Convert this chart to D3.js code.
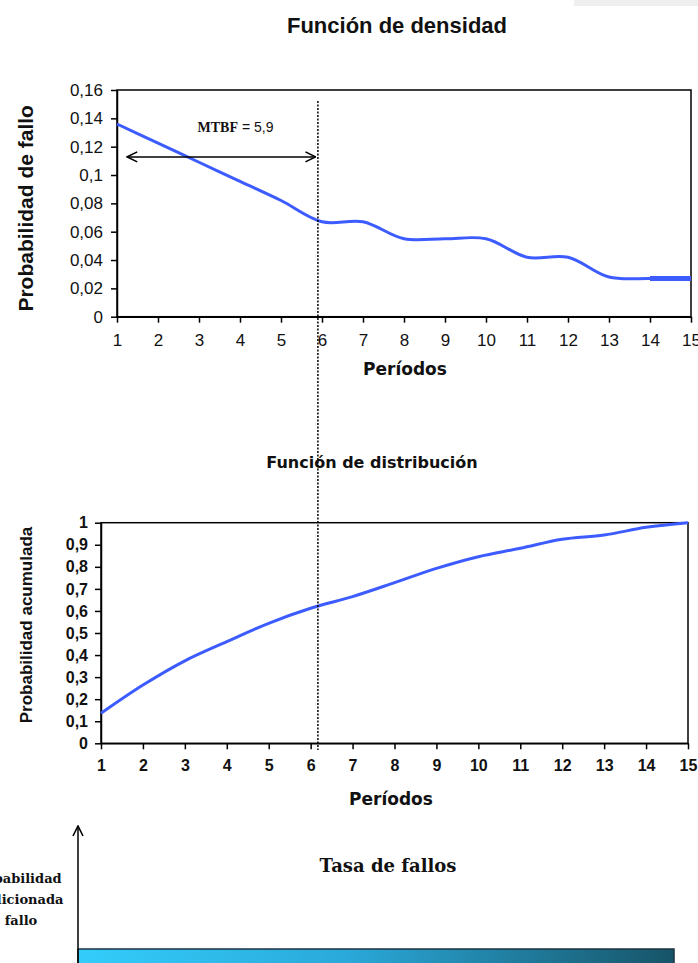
<!DOCTYPE html>
<html>
<head>
<meta charset="utf-8">
<script src="https://cdn.jsdelivr.net/npm/d3@7.9.0/dist/d3.min.js"></script>
<style>
  body { margin: 0; background: #fff; }
  svg { display: block; }
  .tick line, .domain { stroke: #000; stroke-width: 1.5; }
</style>
</head>
<body>
<svg id="chart" width="698" height="963"></svg>
<script>
// periods 1..15
const periods = [1, 2, 3, 4, 5, 6, 7, 8, 9, 10, 11, 12, 13, 14, 15];
// failure probability (density)
const density = [0.136, 0.1225, 0.109, 0.0955, 0.082, 0.067, 0.067, 0.055, 0.055, 0.055, 0.042, 0.042, 0.028, 0.027, 0.027];
// cumulative probability (distribution)
const cumulative = [0.136, 0.264, 0.374, 0.461, 0.544, 0.612, 0.665, 0.728, 0.793, 0.846, 0.884, 0.925, 0.944, 0.979, 1.0];
const mtbf = 5.9;
const densityTicks = [0, 0.02, 0.04, 0.06, 0.08, 0.1, 0.12, 0.14, 0.16];
const cumulativeTicks = [0, 0.1, 0.2, 0.3, 0.4, 0.5, 0.6, 0.7, 0.8, 0.9, 1];

const comma = d => String(+d.toFixed(2)).replace('.', ',');
const blue = '#3d5cff';

const svg = d3.select('#chart');

// faint strip in the top right corner
svg.append('rect').attr('x', 574).attr('y', 0).attr('width', 124).attr('height', 6).attr('fill', '#efefef');

// ---------- Función de densidad ----------
const x1 = d3.scaleLinear().domain([1, 15]).range([117, 691]);
const y1 = d3.scaleLinear().domain([0, 0.16]).range([316.7, 90]);

svg.append('text')
  .attr('x', 397).attr('y', 33)
  .attr('text-anchor', 'middle')
  .style('font', 'bold 22px "Liberation Sans", Arial, sans-serif')
  .attr('fill', '#111')
  .text('Función de densidad');

svg.append('rect')
  .attr('x', x1(1)).attr('y', y1(0.16))
  .attr('width', x1(15) - x1(1)).attr('height', y1(0) - y1(0.16))
  .attr('fill', 'none').attr('stroke', '#000').attr('stroke-width', 1.5);

const gx1 = svg.append('g').attr('transform', `translate(0,${y1(0)})`)
  .call(d3.axisBottom(x1).tickValues(periods).tickSize(6).tickSizeOuter(0).tickPadding(11).tickFormat(d3.format('d')));
gx1.selectAll('text').style('font', '17px "Liberation Sans", Arial, sans-serif').attr('fill', '#111');

const gy1 = svg.append('g').attr('transform', `translate(${x1(1)},0)`)
  .call(d3.axisLeft(y1).tickValues(densityTicks).tickSize(6).tickSizeOuter(0).tickPadding(8).tickFormat(comma));
gy1.selectAll('text').style('font', '17px "Liberation Sans", Arial, sans-serif').attr('fill', '#111');

svg.append('text')
  .attr('transform', `translate(33,${(y1(0) + y1(0.16)) / 2 + 5}) rotate(-90)`)
  .attr('text-anchor', 'middle')
  .style('font', 'bold 21px "Liberation Sans", Arial, sans-serif')
  .attr('fill', '#111')
  .text('Probabilidad de fallo');

svg.append('text')
  .attr('x', 405).attr('y', 375)
  .attr('text-anchor', 'middle')
  .style('font', 'bold 17px "DejaVu Sans", Verdana, sans-serif')
  .attr('fill', '#111')
  .text('Períodos');

const dens = periods.map((p, i) => ({ x: p, y: density[i] }));
const line1 = d3.line().x(d => x1(d.x)).y(d => y1(d.y)).curve(d3.curveCatmullRom.alpha(0.5));
svg.append('path').datum(dens).attr('d', line1)
  .attr('fill', 'none').attr('stroke', blue).attr('stroke-width', 3);
svg.append('path').datum(dens.filter(d => d.x >= 14)).attr('d', line1)
  .attr('fill', 'none').attr('stroke', blue).attr('stroke-width', 5);

// MTBF arrow + label
svg.append('defs').html(`
  <marker id="ah" viewBox="0 0 12 12" refX="11" refY="6" markerWidth="12" markerHeight="12" markerUnits="userSpaceOnUse" orient="auto-start-reverse">
    <path d="M1,1 L11,6 L1,11" fill="none" stroke="#000" stroke-width="1.6"/>
  </marker>
  <linearGradient id="bar" x1="0" x2="1" y1="0" y2="0">
    <stop offset="0" stop-color="#33cdfb"/>
    <stop offset="0.45" stop-color="#2aa9da"/>
    <stop offset="1" stop-color="#175468"/>
  </linearGradient>`);

svg.append('line')
  .attr('x1', x1(1.25)).attr('x2', x1(mtbf - 0.06))
  .attr('y1', y1(0.1128)).attr('y2', y1(0.1128))
  .attr('stroke', '#000').attr('stroke-width', 1.5)
  .attr('marker-start', 'url(#ah)').attr('marker-end', 'url(#ah)');

const lbl = svg.append('text')
  .attr('x', x1(3.89)).attr('y', 132)
  .attr('text-anchor', 'middle')
  .attr('fill', '#111');
lbl.append('tspan').style('font', 'bold 14px "Liberation Serif", "Times New Roman", serif').text('MTBF');
lbl.append('tspan').style('font', '14px "Liberation Sans", Arial, sans-serif').text(' = ' + comma(mtbf));

// ---------- Función de distribución ----------
const x2 = d3.scaleLinear().domain([1, 15]).range([101, 688]);
const y2 = d3.scaleLinear().domain([0, 1]).range([743.3, 522.7]);

svg.append('text')
  .attr('x', 372).attr('y', 468)
  .attr('text-anchor', 'middle')
  .style('font', 'bold 16px "DejaVu Sans", Verdana, sans-serif')
  .attr('fill', '#111')
  .text('Función de distribución');

svg.append('rect')
  .attr('x', x2(1)).attr('y', y2(1))
  .attr('width', x2(15) - x2(1)).attr('height', y2(0) - y2(1))
  .attr('fill', 'none').attr('stroke', '#000').attr('stroke-width', 1.5);

const gx2 = svg.append('g').attr('transform', `translate(0,${y2(0)})`)
  .call(d3.axisBottom(x2).tickValues(periods).tickSize(6).tickSizeOuter(0).tickPadding(10).tickFormat(d3.format('d')));
gx2.selectAll('text').style('font', 'bold 16px "Liberation Sans", Arial, sans-serif').attr('fill', '#111');

const gy2 = svg.append('g').attr('transform', `translate(${x2(1)},0)`)
  .call(d3.axisLeft(y2).tickValues(cumulativeTicks).tickSize(6).tickSizeOuter(0).tickPadding(7).tickFormat(comma));
gy2.selectAll('text').style('font', 'bold 16px "Liberation Sans", Arial, sans-serif').attr('fill', '#111');

svg.append('text')
  .attr('transform', `translate(32,625) rotate(-90)`)
  .attr('text-anchor', 'middle')
  .style('font', 'bold 17px "Liberation Sans", Arial, sans-serif')
  .attr('fill', '#111')
  .text('Probabilidad acumulada');

svg.append('text')
  .attr('x', 391).attr('y', 805)
  .attr('text-anchor', 'middle')
  .style('font', 'bold 17px "DejaVu Sans", Verdana, sans-serif')
  .attr('fill', '#111')
  .text('Períodos');

const cum = periods.map((p, i) => ({ x: p, y: cumulative[i] }));
const line2 = d3.line().x(d => x2(d.x)).y(d => y2(d.y)).curve(d3.curveCatmullRom.alpha(0.5));
svg.append('path').datum(cum).attr('d', line2)
  .attr('fill', 'none').attr('stroke', blue).attr('stroke-width', 3);

// dotted MTBF line across both charts
svg.append('line')
  .attr('x1', x1(mtbf)).attr('x2', x1(mtbf))
  .attr('y1', 101).attr('y2', 750)
  .attr('stroke', '#000').attr('stroke-width', 1.5).attr('stroke-dasharray', '2,1.5');

// ---------- Tasa de fallos ----------
svg.append('text')
  .attr('x', 388).attr('y', 872)
  .attr('text-anchor', 'middle')
  .style('font', 'bold 18px "DejaVu Serif", serif')
  .attr('fill', '#111')
  .text('Tasa de fallos');

const leftLbl = ['Probabilidad', 'condicionada', 'fallo'];
svg.append('text')
  .attr('text-anchor', 'middle')
  .style('font', 'bold 13px "DejaVu Serif", serif')
  .attr('fill', '#111')
  .selectAll('tspan').data(leftLbl).join('tspan')
  .attr('x', (d, i) => i === 2 ? 21 : 15).attr('y', (d, i) => 883 + i * 21)
  .text(d => d);

svg.append('rect')
  .attr('x', 78).attr('y', 949).attr('width', 596).attr('height', 30)
  .attr('fill', 'url(#bar)').attr('stroke', '#1b3340').attr('stroke-width', 1.5);

svg.append('line')
  .attr('x1', 78).attr('x2', 78).attr('y1', 963).attr('y2', 826)
  .attr('stroke', '#000').attr('stroke-width', 1.5).attr('marker-end', 'url(#ah)');
</script>
</body>
</html>
